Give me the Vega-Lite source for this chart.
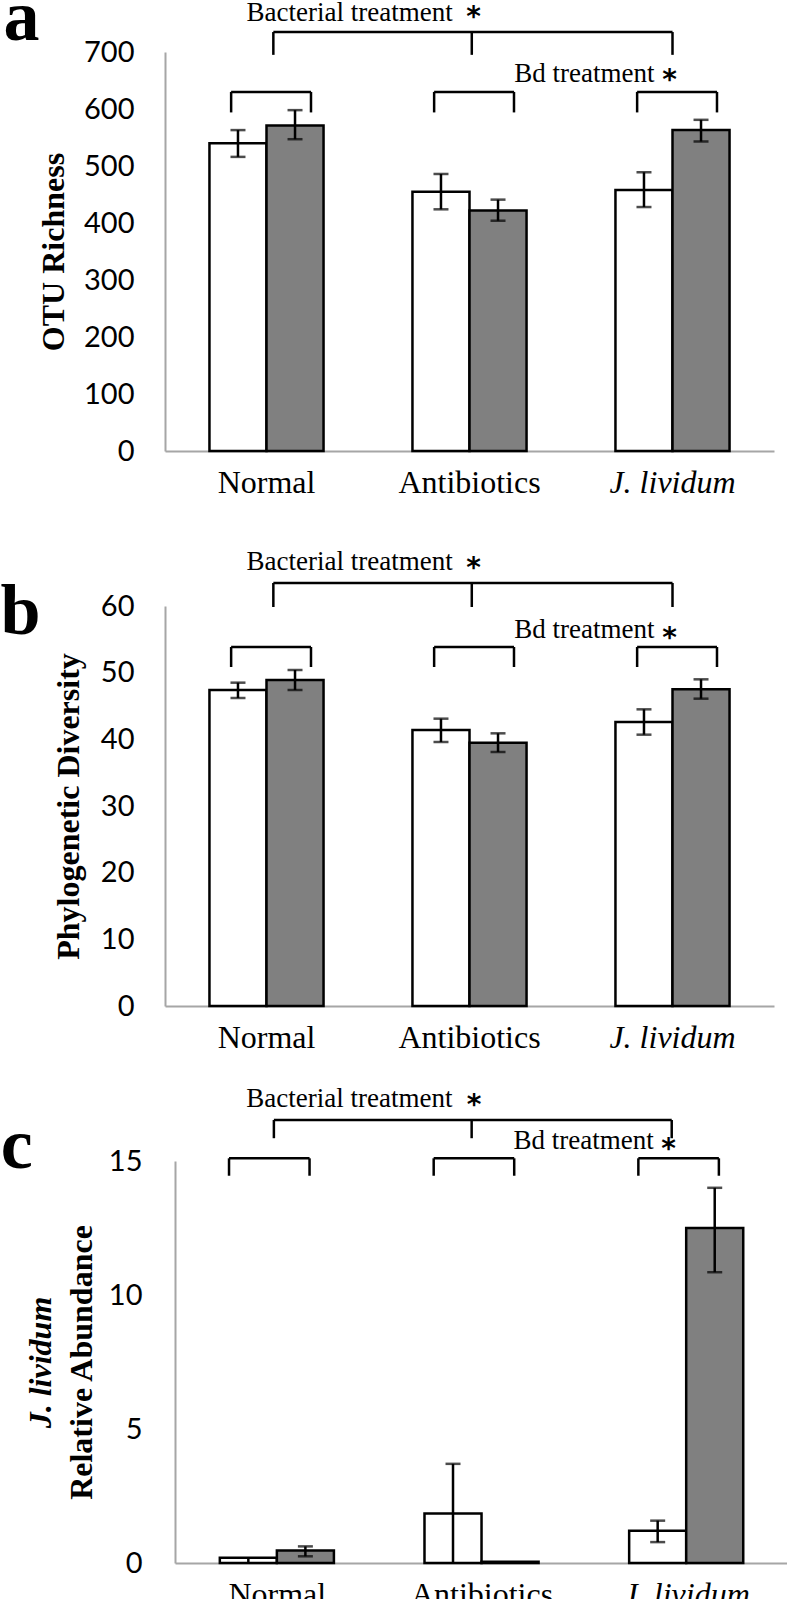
{
"$schema": "https://vega.github.io/schema/vega-lite/v6.json",
"padding": {"left": 0, "top": -18, "right": 0, "bottom": 0},
"bounds": "flush",
"spacing": 155,
"datasets": {"d": [
{"panel":"a","cat":"Normal","bd":"Control","mean":540,"lo":516,"hi":563},
{"panel":"a","cat":"Normal","bd":"Bd","mean":571,"lo":547,"hi":598},
{"panel":"a","cat":"Antibiotics","bd":"Control","mean":455,"lo":424,"hi":486},
{"panel":"a","cat":"Antibiotics","bd":"Bd","mean":422,"lo":404,"hi":441},
{"panel":"a","cat":"J. lividum","bd":"Control","mean":458,"lo":428,"hi":489},
{"panel":"a","cat":"J. lividum","bd":"Bd","mean":563,"lo":543,"hi":581},
{"panel":"b","cat":"Normal","bd":"Control","mean":47.4,"lo":46.2,"hi":48.5},
{"panel":"b","cat":"Normal","bd":"Bd","mean":48.9,"lo":47.4,"hi":50.4},
{"panel":"b","cat":"Antibiotics","bd":"Control","mean":41.4,"lo":39.6,"hi":43.1},
{"panel":"b","cat":"Antibiotics","bd":"Bd","mean":39.5,"lo":38.1,"hi":40.9},
{"panel":"b","cat":"J. lividum","bd":"Control","mean":42.6,"lo":40.7,"hi":44.5},
{"panel":"b","cat":"J. lividum","bd":"Bd","mean":47.5,"lo":46.1,"hi":49.0},
{"panel":"c","cat":"Normal","bd":"Control","mean":0.2,"lo":0,"hi":0.2},
{"panel":"c","cat":"Normal","bd":"Bd","mean":0.47,"lo":0.25,"hi":0.62},
{"panel":"c","cat":"Antibiotics","bd":"Control","mean":1.85,"lo":0,"hi":3.7},
{"panel":"c","cat":"Antibiotics","bd":"Bd","mean":0.05,"lo":0.05,"hi":0.05},
{"panel":"c","cat":"J. lividum","bd":"Control","mean":1.2,"lo":0.78,"hi":1.58},
{"panel":"c","cat":"J. lividum","bd":"Bd","mean":12.5,"lo":10.85,"hi":14.0}
]},
"config": {
 "view": {"stroke": null},
 "axis": {"domainColor": "#a6a6a6", "domainWidth": 2, "ticks": false, "tickSize": 0, "grid": false, "zindex": 1},
 "axisX": {"labelFont": "Liberation Serif", "labelFontSize": 32, "labelColor": "black", "labelPadding": 16, "title": null, "labelAngle": 0},
 "axisY": {"labelFont": "Lato", "labelFontSize": 29, "labelColor": "black", "labelPadding": 31, "titleFont": "Liberation Serif", "titleFontSize": 32, "titleFontWeight": "bold", "titleColor": "black", "titlePadding": 20, "titleBaseline": "alphabetic"}
},
"vconcat": [
{
 "width": 609, "height": 399,
 "data": {"name": "d"},
 "transform": [{"filter": "datum.panel == 'a'"}],
 "layer": [
  {"mark": {"type": "bar", "stroke": "black", "strokeWidth": 2.5},
   "encoding": {
    "x": {"field": "cat", "type": "nominal", "scale": {"domain": ["Normal","Antibiotics","J. lividum"], "paddingInner": 0.438, "paddingOuter": 0.219}, "axis": {"labelFontStyle": {"condition": {"test": "datum.value === 'J. lividum'", "value": "italic"}, "value": "normal"}}},
    "xOffset": {"field": "bd", "type": "nominal", "scale": {"domain": ["Control","Bd"], "paddingInner": 0, "paddingOuter": 0}},
    "y": {"field": "mean", "type": "quantitative", "scale": {"domain": [0, 700], "nice": false}, "axis": {"title": "OTU Richness", "values": [0,100,200,300,400,500,600,700]}},
    "fill": {"field": "bd", "type": "nominal", "scale": {"domain": ["Control","Bd"], "range": ["#ffffff","#808080"]}, "legend": null}
   }},
  {"transform": [{"filter": "datum.hi > datum.lo"}],
   "mark": {"type": "rule", "strokeWidth": 2.5, "color": "black"},
   "encoding": {"x": {"field": "cat", "type": "nominal"}, "xOffset": {"field": "bd", "type": "nominal"}, "y": {"field": "lo", "type": "quantitative"}, "y2": {"field": "hi"}}},
  {"transform": [{"filter": "datum.hi > datum.mean"}],
   "mark": {"type": "tick", "size": 15, "thickness": 2.5, "color": "black"},
   "encoding": {"x": {"field": "cat", "type": "nominal"}, "xOffset": {"field": "bd", "type": "nominal"}, "y": {"field": "hi", "type": "quantitative"}}},
  {"transform": [{"filter": "datum.lo > 0 && datum.lo < datum.mean"}],
   "mark": {"type": "tick", "size": 15, "thickness": 2.5, "color": "black"},
   "encoding": {"x": {"field": "cat", "type": "nominal"}, "xOffset": {"field": "bd", "type": "nominal"}, "y": {"field": "lo", "type": "quantitative"}}},
  {"transform": [{"filter": "datum.bd == 'Control'"}],
   "mark": {"type": "rule", "strokeWidth": 2.5, "color": "black"},
   "encoding": {"x": {"field": "cat", "type": "nominal", "bandPosition": 0.19}, "x2": {"field": "cat", "bandPosition": 0.89}, "y": {"datum": 630, "type": "quantitative"}}},
  {"transform": [{"filter": "datum.bd == 'Control'"}],
   "mark": {"type": "rule", "strokeWidth": 2.5, "color": "black"},
   "encoding": {"x": {"field": "cat", "type": "nominal", "bandPosition": 0.19}, "y": {"datum": 594, "type": "quantitative"}, "y2": {"datum": 630}}},
  {"transform": [{"filter": "datum.bd == 'Control'"}],
   "mark": {"type": "rule", "strokeWidth": 2.5, "color": "black"},
   "encoding": {"x": {"field": "cat", "type": "nominal", "bandPosition": 0.89}, "y": {"datum": 594, "type": "quantitative"}, "y2": {"datum": 630}}},
  {"transform": [{"filter": "datum.cat == 'Normal' && datum.bd == 'Control'"}],
   "mark": {"type": "rule", "strokeWidth": 2.5, "color": "black"},
   "encoding": {"x": {"datum": "Normal", "type": "nominal", "bandPosition": 0.56}, "x2": {"datum": "J. lividum", "bandPosition": 0.5}, "y": {"datum": 735, "type": "quantitative"}}},
  {"transform": [{"filter": "datum.cat == 'Normal' && datum.bd == 'Control'"}],
   "mark": {"type": "rule", "strokeWidth": 2.5, "color": "black"},
   "encoding": {"x": {"datum": "Normal", "type": "nominal", "bandPosition": 0.56}, "y": {"datum": 695, "type": "quantitative"}, "y2": {"datum": 735}}},
  {"transform": [{"filter": "datum.cat == 'Normal' && datum.bd == 'Control'"}],
   "mark": {"type": "rule", "strokeWidth": 2.5, "color": "black"},
   "encoding": {"x": {"datum": "Antibiotics", "type": "nominal", "bandPosition": 0.52}, "y": {"datum": 695, "type": "quantitative"}, "y2": {"datum": 735}}},
  {"transform": [{"filter": "datum.cat == 'Normal' && datum.bd == 'Control'"}],
   "mark": {"type": "rule", "strokeWidth": 2.5, "color": "black"},
   "encoding": {"x": {"datum": "J. lividum", "type": "nominal", "bandPosition": 0.5}, "y": {"datum": 695, "type": "quantitative"}, "y2": {"datum": 735}}},
  {"transform": [{"filter": "datum.cat == 'Normal' && datum.bd == 'Control'"}],
   "mark": {"type": "text", "text": "Bacterial treatment", "align": "left", "baseline": "alphabetic", "dx": -20, "font": "Liberation Serif", "fontSize": 27, "color": "black"},
   "encoding": {"x": {"datum": "Normal", "type": "nominal"}, "y": {"datum": 755, "type": "quantitative"}}},
  {"transform": [{"filter": "datum.cat == 'Normal' && datum.bd == 'Control'"}],
   "mark": {"type": "text", "text": "*", "align": "center", "baseline": "alphabetic", "dx": 4, "font": "DejaVu Sans", "fontWeight": "bold", "fontSize": 28, "color": "black"},
   "encoding": {"x": {"datum": "Antibiotics", "type": "nominal"}, "y": {"datum": 745, "type": "quantitative"}}},
  {"transform": [{"filter": "datum.cat == 'Normal' && datum.bd == 'Control'"}],
   "mark": {"type": "text", "text": "Bd treatment", "align": "right", "baseline": "alphabetic", "dx": -18, "font": "Liberation Serif", "fontSize": 27, "color": "black"},
   "encoding": {"x": {"datum": "J. lividum", "type": "nominal"}, "y": {"datum": 647, "type": "quantitative"}}},
  {"transform": [{"filter": "datum.cat == 'Normal' && datum.bd == 'Control'"}],
   "mark": {"type": "text", "text": "*", "align": "center", "baseline": "alphabetic", "dx": -3, "font": "DejaVu Sans", "fontWeight": "bold", "fontSize": 28, "color": "black"},
   "encoding": {"x": {"datum": "J. lividum", "type": "nominal"}, "y": {"datum": 635, "type": "quantitative"}}},
  {"transform": [{"filter": "datum.cat == 'Normal' && datum.bd == 'Control'"}],
   "mark": {"type": "text", "text": "a", "align": "left", "baseline": "alphabetic", "dx": -206, "font": "Liberation Serif", "fontWeight": "bold", "fontSize": 72, "color": "black"},
   "encoding": {"x": {"datum": "Normal", "type": "nominal", "bandPosition": 0}, "y": {"datum": 721, "type": "quantitative"}}}
 ]
},
{
 "width": 609, "height": 400,
 "data": {"name": "d"},
 "transform": [{"filter": "datum.panel == 'b'"}],
 "layer": [
  {"mark": {"type": "bar", "stroke": "black", "strokeWidth": 2.5},
   "encoding": {
    "x": {"field": "cat", "type": "nominal", "scale": {"domain": ["Normal","Antibiotics","J. lividum"], "paddingInner": 0.438, "paddingOuter": 0.219}, "axis": {"labelFontStyle": {"condition": {"test": "datum.value === 'J. lividum'", "value": "italic"}, "value": "normal"}}},
    "xOffset": {"field": "bd", "type": "nominal", "scale": {"domain": ["Control","Bd"], "paddingInner": 0, "paddingOuter": 0}},
    "y": {"field": "mean", "type": "quantitative", "scale": {"domain": [0, 60], "nice": false}, "axis": {"title": "Phylogenetic Diversity", "values": [0,10,20,30,40,50,60], "titlePadding": 22}},
    "fill": {"field": "bd", "type": "nominal", "scale": {"domain": ["Control","Bd"], "range": ["#ffffff","#808080"]}, "legend": null}
   }},
  {"transform": [{"filter": "datum.hi > datum.lo"}],
   "mark": {"type": "rule", "strokeWidth": 2.5, "color": "black"},
   "encoding": {"x": {"field": "cat", "type": "nominal"}, "xOffset": {"field": "bd", "type": "nominal"}, "y": {"field": "lo", "type": "quantitative"}, "y2": {"field": "hi"}}},
  {"transform": [{"filter": "datum.hi > datum.mean"}],
   "mark": {"type": "tick", "size": 15, "thickness": 2.5, "color": "black"},
   "encoding": {"x": {"field": "cat", "type": "nominal"}, "xOffset": {"field": "bd", "type": "nominal"}, "y": {"field": "hi", "type": "quantitative"}}},
  {"transform": [{"filter": "datum.lo > 0 && datum.lo < datum.mean"}],
   "mark": {"type": "tick", "size": 15, "thickness": 2.5, "color": "black"},
   "encoding": {"x": {"field": "cat", "type": "nominal"}, "xOffset": {"field": "bd", "type": "nominal"}, "y": {"field": "lo", "type": "quantitative"}}},
  {"transform": [{"filter": "datum.bd == 'Control'"}],
   "mark": {"type": "rule", "strokeWidth": 2.5, "color": "black"},
   "encoding": {"x": {"field": "cat", "type": "nominal", "bandPosition": 0.19}, "x2": {"field": "cat", "bandPosition": 0.89}, "y": {"datum": 53.85, "type": "quantitative"}}},
  {"transform": [{"filter": "datum.bd == 'Control'"}],
   "mark": {"type": "rule", "strokeWidth": 2.5, "color": "black"},
   "encoding": {"x": {"field": "cat", "type": "nominal", "bandPosition": 0.19}, "y": {"datum": 50.85, "type": "quantitative"}, "y2": {"datum": 53.85}}},
  {"transform": [{"filter": "datum.bd == 'Control'"}],
   "mark": {"type": "rule", "strokeWidth": 2.5, "color": "black"},
   "encoding": {"x": {"field": "cat", "type": "nominal", "bandPosition": 0.89}, "y": {"datum": 50.85, "type": "quantitative"}, "y2": {"datum": 53.85}}},
  {"transform": [{"filter": "datum.cat == 'Normal' && datum.bd == 'Control'"}],
   "mark": {"type": "rule", "strokeWidth": 2.5, "color": "black"},
   "encoding": {"x": {"datum": "Normal", "type": "nominal", "bandPosition": 0.56}, "x2": {"datum": "J. lividum", "bandPosition": 0.5}, "y": {"datum": 63.45, "type": "quantitative"}}},
  {"transform": [{"filter": "datum.cat == 'Normal' && datum.bd == 'Control'"}],
   "mark": {"type": "rule", "strokeWidth": 2.5, "color": "black"},
   "encoding": {"x": {"datum": "Normal", "type": "nominal", "bandPosition": 0.56}, "y": {"datum": 59.85, "type": "quantitative"}, "y2": {"datum": 63.45}}},
  {"transform": [{"filter": "datum.cat == 'Normal' && datum.bd == 'Control'"}],
   "mark": {"type": "rule", "strokeWidth": 2.5, "color": "black"},
   "encoding": {"x": {"datum": "Antibiotics", "type": "nominal", "bandPosition": 0.52}, "y": {"datum": 59.85, "type": "quantitative"}, "y2": {"datum": 63.45}}},
  {"transform": [{"filter": "datum.cat == 'Normal' && datum.bd == 'Control'"}],
   "mark": {"type": "rule", "strokeWidth": 2.5, "color": "black"},
   "encoding": {"x": {"datum": "J. lividum", "type": "nominal", "bandPosition": 0.5}, "y": {"datum": 59.85, "type": "quantitative"}, "y2": {"datum": 63.45}}},
  {"transform": [{"filter": "datum.cat == 'Normal' && datum.bd == 'Control'"}],
   "mark": {"type": "text", "text": "Bacterial treatment", "align": "left", "baseline": "alphabetic", "dx": -20, "font": "Liberation Serif", "fontSize": 27, "color": "black"},
   "encoding": {"x": {"datum": "Normal", "type": "nominal"}, "y": {"datum": 65.4, "type": "quantitative"}}},
  {"transform": [{"filter": "datum.cat == 'Normal' && datum.bd == 'Control'"}],
   "mark": {"type": "text", "text": "*", "align": "center", "baseline": "alphabetic", "dx": 4, "font": "DejaVu Sans", "fontWeight": "bold", "fontSize": 28, "color": "black"},
   "encoding": {"x": {"datum": "Antibiotics", "type": "nominal"}, "y": {"datum": 64.35, "type": "quantitative"}}},
  {"transform": [{"filter": "datum.cat == 'Normal' && datum.bd == 'Control'"}],
   "mark": {"type": "text", "text": "Bd treatment", "align": "right", "baseline": "alphabetic", "dx": -18, "font": "Liberation Serif", "fontSize": 27, "color": "black"},
   "encoding": {"x": {"datum": "J. lividum", "type": "nominal"}, "y": {"datum": 55.2, "type": "quantitative"}}},
  {"transform": [{"filter": "datum.cat == 'Normal' && datum.bd == 'Control'"}],
   "mark": {"type": "text", "text": "*", "align": "center", "baseline": "alphabetic", "dx": -3, "font": "DejaVu Sans", "fontWeight": "bold", "fontSize": 28, "color": "black"},
   "encoding": {"x": {"datum": "J. lividum", "type": "nominal"}, "y": {"datum": 53.85, "type": "quantitative"}}},
  {"transform": [{"filter": "datum.cat == 'Normal' && datum.bd == 'Control'"}],
   "mark": {"type": "text", "text": "b", "align": "left", "baseline": "alphabetic", "dx": -209, "font": "Liberation Serif", "fontWeight": "bold", "fontSize": 72, "color": "black"},
   "encoding": {"x": {"datum": "Normal", "type": "nominal", "bandPosition": 0}, "y": {"datum": 55.8, "type": "quantitative"}}}
 ]
},
{
 "width": 624, "height": 402,
 "data": {"name": "d"},
 "transform": [{"filter": "datum.panel == 'c'"}],
 "resolve": {"axis": {"y": "independent"}},
 "layer": [
  {"mark": {"type": "bar", "stroke": "black", "strokeWidth": 2.5},
   "encoding": {
    "x": {"field": "cat", "type": "nominal", "scale": {"domain": ["Normal","Antibiotics","J. lividum"], "paddingInner": 0.438, "paddingOuter": 0.219, "range": [10, 624]}, "axis": {"labelFontStyle": {"condition": {"test": "datum.value === 'J. lividum'", "value": "italic"}, "value": "normal"}}},
    "xOffset": {"field": "bd", "type": "nominal", "scale": {"domain": ["Control","Bd"], "paddingInner": 0, "paddingOuter": 0}},
    "y": {"field": "mean", "type": "quantitative", "scale": {"domain": [0, 15], "nice": false}, "axis": {"title": "Relative Abundance", "values": [0,5,10,15], "offset": -10, "labelPadding": 33, "titlePadding": 17}},
    "fill": {"field": "bd", "type": "nominal", "scale": {"domain": ["Control","Bd"], "range": ["#ffffff","#808080"]}, "legend": null}
   }},
  {"transform": [{"filter": "datum.hi > datum.lo"}],
   "mark": {"type": "rule", "strokeWidth": 2.5, "color": "black"},
   "encoding": {"x": {"field": "cat", "type": "nominal"}, "xOffset": {"field": "bd", "type": "nominal"}, "y": {"field": "lo", "type": "quantitative", "axis": null}, "y2": {"field": "hi"}}},
  {"transform": [{"filter": "datum.hi > datum.mean"}],
   "mark": {"type": "tick", "size": 15, "thickness": 2.5, "color": "black"},
   "encoding": {"x": {"field": "cat", "type": "nominal"}, "xOffset": {"field": "bd", "type": "nominal"}, "y": {"field": "hi", "type": "quantitative", "axis": {"title": "J. lividum", "orient": "left", "titleFontStyle": "italic", "labels": false, "domain": false, "ticks": false, "offset": -10, "titlePadding": 125}}}},
  {"transform": [{"filter": "datum.lo > 0 && datum.lo < datum.mean"}],
   "mark": {"type": "tick", "size": 15, "thickness": 2.5, "color": "black"},
   "encoding": {"x": {"field": "cat", "type": "nominal"}, "xOffset": {"field": "bd", "type": "nominal"}, "y": {"field": "lo", "type": "quantitative", "axis": null}}},
  {"transform": [{"filter": "datum.bd == 'Control'"}],
   "mark": {"type": "rule", "strokeWidth": 2.5, "color": "black"},
   "encoding": {"x": {"field": "cat", "type": "nominal", "bandPosition": 0.08}, "x2": {"field": "cat", "bandPosition": 0.78}, "y": {"datum": 15.1, "type": "quantitative", "axis": null}}},
  {"transform": [{"filter": "datum.bd == 'Control'"}],
   "mark": {"type": "rule", "strokeWidth": 2.5, "color": "black"},
   "encoding": {"x": {"field": "cat", "type": "nominal", "bandPosition": 0.08}, "y": {"datum": 14.45, "type": "quantitative", "axis": null}, "y2": {"datum": 15.1}}},
  {"transform": [{"filter": "datum.bd == 'Control'"}],
   "mark": {"type": "rule", "strokeWidth": 2.5, "color": "black"},
   "encoding": {"x": {"field": "cat", "type": "nominal", "bandPosition": 0.78}, "y": {"datum": 14.45, "type": "quantitative", "axis": null}, "y2": {"datum": 15.1}}},
  {"transform": [{"filter": "datum.cat == 'Normal' && datum.bd == 'Control'"}],
   "mark": {"type": "rule", "strokeWidth": 2.5, "color": "black"},
   "encoding": {"x": {"datum": "Normal", "type": "nominal", "bandPosition": 0.47}, "x2": {"datum": "J. lividum", "bandPosition": 0.37}, "y": {"datum": 16.53, "type": "quantitative", "axis": null}}},
  {"transform": [{"filter": "datum.cat == 'Normal' && datum.bd == 'Control'"}],
   "mark": {"type": "rule", "strokeWidth": 2.5, "color": "black"},
   "encoding": {"x": {"datum": "Normal", "type": "nominal", "bandPosition": 0.47}, "y": {"datum": 15.85, "type": "quantitative", "axis": null}, "y2": {"datum": 16.53}}},
  {"transform": [{"filter": "datum.cat == 'Normal' && datum.bd == 'Control'"}],
   "mark": {"type": "rule", "strokeWidth": 2.5, "color": "black"},
   "encoding": {"x": {"datum": "Antibiotics", "type": "nominal", "bandPosition": 0.41}, "y": {"datum": 15.85, "type": "quantitative", "axis": null}, "y2": {"datum": 16.53}}},
  {"transform": [{"filter": "datum.cat == 'Normal' && datum.bd == 'Control'"}],
   "mark": {"type": "rule", "strokeWidth": 2.5, "color": "black"},
   "encoding": {"x": {"datum": "J. lividum", "type": "nominal", "bandPosition": 0.37}, "y": {"datum": 15.85, "type": "quantitative", "axis": null}, "y2": {"datum": 16.53}}},
  {"transform": [{"filter": "datum.cat == 'Normal' && datum.bd == 'Control'"}],
   "mark": {"type": "text", "text": "Bacterial treatment", "align": "left", "baseline": "alphabetic", "dx": -31, "font": "Liberation Serif", "fontSize": 27, "color": "black"},
   "encoding": {"x": {"datum": "Normal", "type": "nominal"}, "y": {"datum": 17.0, "type": "quantitative", "axis": null}}},
  {"transform": [{"filter": "datum.cat == 'Normal' && datum.bd == 'Control'"}],
   "mark": {"type": "text", "text": "*", "align": "center", "baseline": "alphabetic", "dx": -8, "font": "DejaVu Sans", "fontWeight": "bold", "fontSize": 28, "color": "black"},
   "encoding": {"x": {"datum": "Antibiotics", "type": "nominal"}, "y": {"datum": 16.75, "type": "quantitative", "axis": null}}},
  {"transform": [{"filter": "datum.cat == 'Normal' && datum.bd == 'Control'"}],
   "mark": {"type": "text", "text": "Bd treatment", "align": "right", "baseline": "alphabetic", "dx": -33, "font": "Liberation Serif", "fontSize": 27, "color": "black"},
   "encoding": {"x": {"datum": "J. lividum", "type": "nominal"}, "y": {"datum": 15.45, "type": "quantitative", "axis": null}}},
  {"transform": [{"filter": "datum.cat == 'Normal' && datum.bd == 'Control'"}],
   "mark": {"type": "text", "text": "*", "align": "center", "baseline": "alphabetic", "dx": -18, "font": "DejaVu Sans", "fontWeight": "bold", "fontSize": 28, "color": "black"},
   "encoding": {"x": {"datum": "J. lividum", "type": "nominal"}, "y": {"datum": 15.12, "type": "quantitative", "axis": null}}},
  {"transform": [{"filter": "datum.cat == 'Normal' && datum.bd == 'Control'"}],
   "mark": {"type": "text", "text": "c", "align": "left", "baseline": "alphabetic", "dx": -219, "font": "Liberation Serif", "fontWeight": "bold", "fontSize": 72, "color": "black"},
   "encoding": {"x": {"datum": "Normal", "type": "nominal", "bandPosition": 0}, "y": {"datum": 14.74, "type": "quantitative", "axis": null}}}
 ]
}
]
}
